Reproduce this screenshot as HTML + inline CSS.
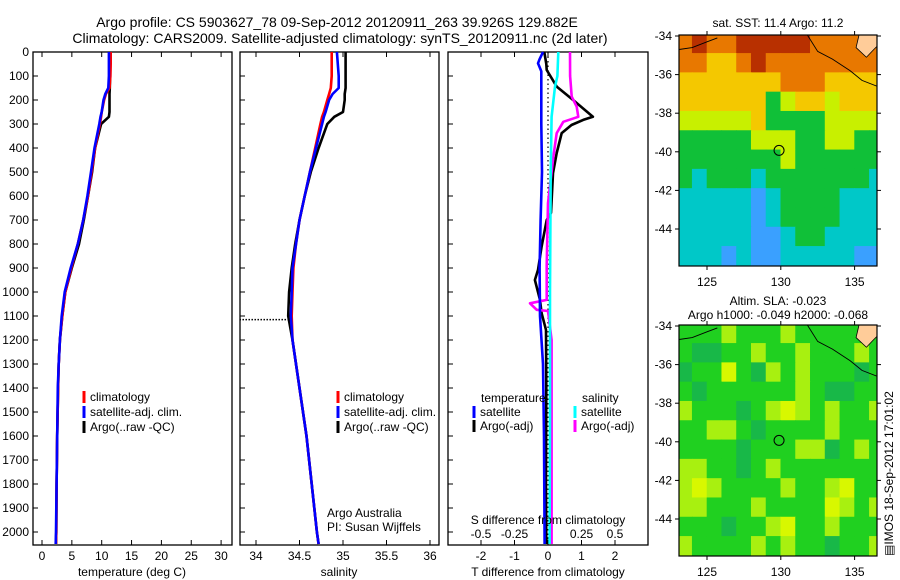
<!DOCTYPE html>
<html><head><meta charset="utf-8"><style>
body{margin:0;background:#fff;}
svg{display:block;font-family:"Liberation Sans",sans-serif;}
text{font-size:12px;fill:#000;}
</style></head><body>
<svg id="fig" width="900" height="580" viewBox="0 0 900 580">
<rect width="900" height="580" fill="#fff"/>
<text x="337" y="27" text-anchor="middle" style="font-size:14px">Argo profile: CS 5903627_78 09-Sep-2012 20120911_263 39.926S 129.882E</text>
<text x="340" y="43" text-anchor="middle" style="font-size:14px">Climatology: CARS2009. Satellite-adjusted climatology: synTS_20120911.nc (2d later)</text>
<g id="g"></g>
</svg>
<script>
// ---- data ----
const depthTicks=[0,100,200,300,400,500,600,700,800,900,1000,1100,1200,1300,1400,1500,1600,1700,1800,1900,2000];
const tTicks=[0,5,10,15,20,25,30];
const sTicks=[34,34.5,35,35.5,36];
const sTickLabels=["34","34.5","35","35.5","36"];
const dTTicks=[-2,-1,0,1,2];
const dSTicks=[-0.5,-0.25,0,0.25,0.5];
const profDepth=[0,50,100,150,175,200,250,270,300,400,500,600,700,800,900,1000,1100,1200,1300,1400,1600,1800,2000,2050];
const argoT=[11.4,11.4,11.4,11.35,11.3,11.3,11.3,11.2,9.9,8.9,8.4,7.7,7.0,6.2,5.0,3.9,3.4,3.0,2.8,2.7,2.55,2.45,2.4,2.35];
const climT=[11.5,11.5,11.45,11.3,10.7,10.4,10.0,9.9,9.7,8.9,8.3,7.7,6.9,6.0,4.9,3.9,3.4,3.0,2.8,2.7,2.55,2.45,2.4,2.35];
const satT=[11.2,11.2,11.2,11.1,10.6,10.3,10.0,9.8,9.6,8.8,8.2,7.6,6.9,6.0,4.8,3.8,3.3,3.0,2.8,2.65,2.55,2.45,2.35,2.3];
const argoS=[35.03,35.03,35.03,35.03,35.02,35.02,35.0,34.9,34.82,34.72,34.63,34.56,34.5,34.45,34.41,34.38,34.37,34.42,34.46,34.5,34.58,34.64,34.7,34.72];
const climS=[34.87,34.87,34.87,34.86,34.84,34.82,34.78,34.76,34.74,34.68,34.62,34.56,34.5,34.46,34.43,34.42,34.41,34.42,34.46,34.5,34.58,34.64,34.7,34.72];
const satS=[34.93,34.94,34.95,34.95,34.88,34.84,34.80,34.78,34.76,34.69,34.62,34.56,34.5,34.46,34.42,34.41,34.40,34.42,34.46,34.5,34.58,34.64,34.7,34.72];
const badDepth=1115, badS=33.81;
const dTsatDepth=[0,30,47,80,150,300,500,700,900,1100,1300,1600,2050];
const dTsat=[-0.15,-0.25,-0.3,-0.2,-0.2,-0.2,-0.18,-0.22,-0.25,-0.24,-0.15,-0.12,-0.1];
const dTargoDepth=[0,50,75,144,200,270,283,304,338,421,505,670,700,811,908,950,1033,1088,1158,1400,1800,2050];
const dTargo=[-0.11,-0.05,-0.04,0.26,0.75,1.34,1.05,0.7,0.41,0.26,0.15,0.09,-0.04,-0.19,-0.3,-0.39,-0.24,-0.19,-0.06,-0.05,-0.06,-0.05];
const dSsatDepth=[0,100,144,270,500,1000,1500,2050];
const dSsat=[0.077,0.07,0.052,0.027,0.02,0.015,0.015,0.012];
const dSargoDepth=[0,100,186,228,270,291,338,435,630,890,1033,1047,1074,1079,1200,2050];
const dSargo=[0.164,0.165,0.177,0.214,0.226,0.114,0.065,0.04,0.0,-0.01,-0.01,-0.134,-0.084,0.0,0.027,0.027];
const lonTicks=[125,130,135];
const latTicks=[-34,-36,-38,-40,-42,-44];
const sstGrid=[
[5,6,5,5,6,6,6,6,6,5,5,5,5,5],
[5,5,4,4,5,6,5,5,5,5,5,5,5,5],
[4,4,4,4,4,4,4,5,5,5,4,4,4,4],
[4,4,4,4,4,4,2,3,4,4,3,4,4,4],
[3,3,3,3,3,4,2,2,2,2,3,3,3,3],
[2,2,2,2,2,3,3,3,2,2,3,3,2,2],
[2,2,2,2,2,2,2,3,2,2,2,2,2,2],
[2,1,2,2,2,1,2,2,2,2,2,2,2,1],
[1,1,1,1,1,0,1,2,2,2,2,1,1,1],
[1,1,1,1,1,0,1,2,2,2,2,1,1,1],
[1,1,1,1,1,0,0,1,2,2,1,1,1,1],
[1,1,1,0,1,0,0,1,1,1,1,1,0,0]];
const slaGrid=[
[2,2,2,3,2,2,2,3,2,2,2,2,2,2],
[2,1,1,2,2,3,2,2,3,2,2,2,3,2],
[1,2,2,4,2,1,3,2,3,2,2,2,1,2],
[2,1,2,2,2,2,2,2,3,2,1,1,2,2],
[3,2,2,2,1,2,3,4,3,2,3,2,2,3],
[2,2,3,3,2,1,2,2,2,2,3,2,2,2],
[2,2,2,2,1,2,2,2,3,3,1,2,3,2],
[3,3,2,2,1,2,3,2,2,2,2,2,2,2],
[3,4,3,2,2,2,2,3,2,2,3,4,2,2],
[3,3,2,2,2,3,2,2,2,2,4,3,2,3],
[2,2,2,1,2,2,3,4,2,2,3,2,2,2],
[3,2,2,2,2,3,2,3,2,2,1,2,2,3]];
const floatLon=129.882, floatLat=-39.926;

// ---- helpers ----
const NS="http://www.w3.org/2000/svg";
const G=document.getElementById('g');
function mk(tag,attrs,parent,txt){const e=document.createElementNS(NS,tag);for(const k in attrs)e.setAttribute(k,attrs[k]);if(txt!==undefined)e.textContent=txt;(parent||G).appendChild(e);return e;}
const TOP=52,BOT=545;
const yD=d=>TOP+d*0.24;
const xT=t=>42+t*5.97;
const xS=s=>256+(s-34)*87;
const xdT=t=>548+t*33.5;
const xdS=s=>548+s*134;

function panel(name,x0,x1){
  const r=mk('rect',{x:x0,y:TOP,width:x1-x0,height:BOT-TOP,fill:'none',stroke:'#000','stroke-width':1.3});
  
  
  depthTicks.forEach(d=>{mk('line',{x1:x0,x2:x0+5,y1:yD(d),y2:yD(d),stroke:'#000'});});
}
function line(name,xs,ds,fx,color,w,dash){
  const pts=xs.map((v,i)=>fx(v).toFixed(1)+','+yD(ds[i]).toFixed(1)).join(' ');
  const p=mk('polyline',{points:pts,fill:'none',stroke:color,'stroke-width':w||2.6,'stroke-linejoin':'round'});
  if(dash)p.setAttribute('stroke-dasharray',dash);
  
  
}
function xticks(vals,labels,fx,yLab,name){
  vals.forEach((v,i)=>{
    const x=fx(v);
    mk('line',{x1:x,x2:x,y1:BOT,y2:BOT-5,stroke:'#000'});
    mk('line',{x1:x,x2:x,y1:TOP,y2:TOP+5,stroke:'#000'});
    const t=mk('text',{x:x,y:yLab,'text-anchor':'middle'},G,labels[i]);
    
    
  });
}
function legendItem(x,y,color,label,name){
  mk('line',{x1:x,x2:x,y1:y-10,y2:y+2,stroke:color,'stroke-width':3});
  const t=mk('text',{x:x+6,y:y},G,label);
  
  
}

// y labels
depthTicks.forEach(d=>{
  const t=mk('text',{x:29,y:yD(d)+4,'text-anchor':'end'},G,String(d));
  
  
});

// ---- panel 1: temperature ----
panel('temperature-panel',33,232);
xticks(tTicks,tTicks.map(String),xT,560,'temperature-tick-label');
line('temp-argo-line',argoT,profDepth,xT,'#000');
line('temp-climatology-line',climT,profDepth,xT,'#f00');
line('temp-satellite-line',satT,profDepth,xT,'#00f');
legendItem(84,401,'#f00','climatology','legend-climatology');
legendItem(84,416,'#00f','satellite-adj. clim.','legend-satellite-adj');
legendItem(84,431,'#000','Argo(..raw -QC)','legend-argo');
let tt=mk('text',{x:132,y:576,'text-anchor':'middle'},G,'temperature (deg C)');


// ---- panel 2: salinity ----
panel('salinity-panel',240,439);
xticks(sTicks,sTickLabels,xS,560,'salinity-tick-label');
line('sal-argo-line',argoS,profDepth,xS,'#000');
line('sal-climatology-line',climS,profDepth,xS,'#f00');
line('sal-satellite-line',satS,profDepth,xS,'#00f');
const bad=mk('line',{x1:xS(badS),x2:xS(34.37),y1:yD(badDepth),y2:yD(badDepth),stroke:'#000','stroke-width':1.5,'stroke-dasharray':'1.5,1.5'});

legendItem(338,401,'#f00','climatology','legend-climatology-2');
legendItem(338,416,'#00f','satellite-adj. clim.','legend-satellite-adj-2');
legendItem(338,431,'#000','Argo(..raw -QC)','legend-argo-2');
tt=mk('text',{x:327,y:517},G,'Argo Australia');
tt=mk('text',{x:327,y:531},G,'PI: Susan Wijffels');
tt=mk('text',{x:339,y:576,'text-anchor':'middle'},G,'salinity');

// ---- panel 3: differences ----
panel('difference-panel',448,648);
mk('line',{x1:548,x2:548,y1:TOP,y2:BOT,stroke:'#000','stroke-width':1.2,'stroke-dasharray':'1.5,3'});
xticks(dTTicks,dTTicks.map(String),xdT,560,'t-diff-tick-label');
dSTicks.forEach(v=>{const t=mk('text',{x:xdS(v),y:538,'text-anchor':'middle'},G,String(v));});
line('dT-argo-line',dTargo,dTargoDepth,xdT,'#000');
line('dS-argo-line',dSargo,dSargoDepth,xdS,'#f0f');
line('dS-satellite-line',dSsat,dSsatDepth,xdS,'#0ff');
line('dT-satellite-line',dTsat,dTsatDepth,xdT,'#00f');
tt=mk('text',{x:481,y:402},G,'temperature');
tt=mk('text',{x:582,y:402},G,'salinity');
legendItem(474,416,'#00f','satellite','legend-t-satellite');
legendItem(474,430,'#000','Argo(-adj)','legend-t-argo');
legendItem(575,416,'#0ff','satellite','legend-s-satellite');
legendItem(575,430,'#f0f','Argo(-adj)','legend-s-argo');
tt=mk('text',{x:548,y:524,'text-anchor':'middle'},G,'S difference from climatology');
tt=mk('text',{x:548,y:576,'text-anchor':'middle'},G,'T difference from climatology');

// ---- maps ----
const sstCol=['#3aa0ff','#00c8c8','#10c038','#c8f000','#f4c800','#e87800','#b83000'];
const slaCol=['#00a060','#18b848','#20d020','#a8f010','#d8f800'];
function map(name,y0,grid,cols,title1,title2){
  const x0=679,x1=877,y1=y0+231;
  const lx=lon=>707+(lon-125)*14.76;
  const ly=lat=>y0+1+(-34-lat)*19.3;
  const cid='clip'+y0;
  const cp=mk('clipPath',{id:cid});mk('rect',{x:x0,y:y0,width:x1-x0,height:y1-y0},cp);
  const g=mk('g',{'clip-path':'url(#'+cid+')'});
  
  
  grid.forEach((row,r)=>row.forEach((v,c)=>{
    const lon=123+c,lat=-34+0.1-r;
    mk('rect',{x:lx(lon)-0.3,y:ly(lat)-0.3,width:14.76+0.6,height:19.3+0.6,fill:cols[v]},g);
  }));
  mk('path',{d:`M${lx(135.3)},${y0} L${lx(135.1)},${ly(-34.6)} L${lx(135.8)},${ly(-35.1)} L${lx(136.3)},${ly(-34.7)} L${lx(136.7)},${ly(-34.4)} L${lx(136.7)},${y0} Z`,fill:'#ffcc99',stroke:'#000','stroke-width':0.8},g);
  mk('polyline',{points:`${x0},${ly(-34.7)} ${lx(124)},${ly(-34.6)} ${lx(125)},${ly(-34.3)} ${lx(125.7)},${ly(-34.1)}`,fill:'none',stroke:'#000','stroke-width':0.9},g);
  mk('polyline',{points:`${lx(131.8)},${y0} ${lx(132.5)},${ly(-34.8)} ${lx(133.5)},${ly(-35.2)} ${lx(134.7)},${ly(-35.8)} ${lx(135.5)},${ly(-36.3)} ${x1},${ly(-36.6)}`,fill:'none',stroke:'#000','stroke-width':0.9},g);
  const c=mk('circle',{cx:lx(floatLon),cy:ly(floatLat),r:5,fill:'none',stroke:'#000','stroke-width':1});
  
  mk('rect',{x:x0,y:y0,width:x1-x0,height:y1-y0,fill:'none',stroke:'#000','stroke-width':1.2});
  lonTicks.forEach(l=>{mk('line',{x1:lx(l),x2:lx(l),y1:y0,y2:y0-4,stroke:'#000'});mk('line',{x1:lx(l),x2:lx(l),y1:y1,y2:y1+4,stroke:'#000'});
    const t=mk('text',{x:lx(l),y:y1+20,'text-anchor':'middle'},G,String(l));});
  latTicks.forEach(l=>{mk('line',{x1:x0,x2:x0-4,y1:ly(l),y2:ly(l),stroke:'#000'});mk('line',{x1:x1,x2:x1+4,y1:ly(l),y2:ly(l),stroke:'#000'});
    const t=mk('text',{x:x0-7,y:ly(l)+4,'text-anchor':'end'},G,String(l));});
  if(title1){const t=mk('text',{x:778,y:y0-(title2?20:8),'text-anchor':'middle'},G,title1);}
  if(title2){const t=mk('text',{x:778,y:y0-6,'text-anchor':'middle'},G,title2);}
}
map('sst-map',35,sstGrid,sstCol,'sat. SST: 11.4  Argo: 11.2');
map('sla-map',325,slaGrid,slaCol,'Altim. SLA: -0.023','Argo h1000: -0.049 h2000: -0.068');
tt=mk('text',{x:0,y:0,transform:'translate(893,556) rotate(-90)'},G,'\u25A4IMOS 18-Sep-2012 17:01:02');

</script>
</body></html>
